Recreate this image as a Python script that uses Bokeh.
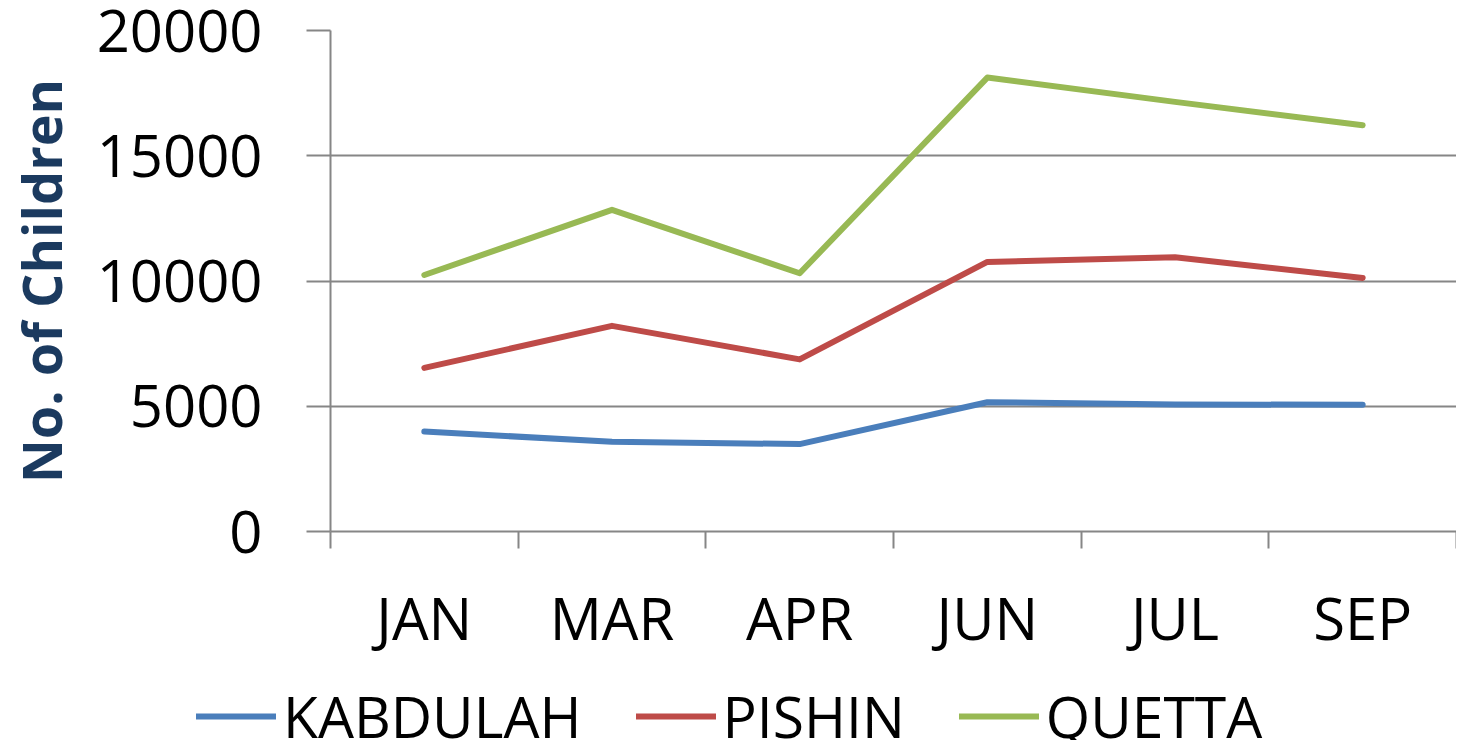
from bokeh.plotting import figure
from bokeh.models import FixedTicker, Legend, LegendItem, Range1d
from bokeh.layouts import column
from bokeh.embed import file_html
from bokeh.resources import INLINE

months = ["JAN", "MAR", "APR", "JUN", "JUL", "SEP"]
kabdulah = [3990, 3580, 3490, 5160, 5070, 5060]
pishin = [6530, 8210, 6870, 10760, 10950, 10120]
quetta = [10240, 12840, 10310, 18120, 17150, 16220]
y_ticks = [0, 5000, 10000, 15000, 20000]

series = [("KABDULAH", kabdulah, "#4A7EBB"),
          ("PISHIN", pishin, "#BE4B48"),
          ("QUETTA", quetta, "#98B954")]

xs = [i + 0.5 for i in range(len(months))]

FONT = "Open Sans"
GRID = "#868686"
W = 1456
H_MAIN = 662
H_LEG = 78

p = figure(width=W, height=H_MAIN, output_backend="svg", toolbar_location=None,
           x_range=Range1d(0, len(months)), y_range=Range1d(0, 20000),
           min_border_left=330, min_border_right=0, min_border_top=30,
           min_border_bottom=131)
p.frame_align = False
p.outline_line_color = None
p.background_fill_color = "white"
p.border_fill_color = "white"

for name, vals, col in series:
    p.line(xs, vals, line_color=col, line_width=6, line_cap="round",
           line_join="round")

# x axis
xa = p.xaxis[0]
xa.ticker = FixedTicker(ticks=xs, minor_ticks=list(range(len(months) + 1)))
xa.major_label_overrides = {x: m for x, m in zip(xs, months)}
xa.major_tick_out = 0
xa.major_tick_in = 0
xa.minor_tick_out = 17
xa.minor_tick_in = 0
xa.minor_tick_line_color = GRID
xa.minor_tick_line_width = 2
xa.axis_line_color = GRID
xa.axis_line_width = 2
xa.major_label_text_font = FONT
xa.major_label_text_font_size = "58px"
xa.major_label_text_color = "black"
xa.major_label_standoff = 29

# y axis
ya = p.yaxis[0]
ya.ticker = FixedTicker(ticks=y_ticks)
ya.minor_tick_line_color = None
ya.major_tick_out = 24
ya.major_tick_in = 0
ya.major_tick_line_color = GRID
ya.major_tick_line_width = 2
ya.axis_line_color = GRID
ya.axis_line_width = 2
ya.major_label_text_font = FONT
ya.major_label_text_font_size = "58px"
ya.major_label_text_color = "black"
ya.major_label_standoff = 44
ya.axis_label = "No. of Children"
ya.axis_label_text_font = FONT
ya.axis_label_text_font_style = "bold"
ya.axis_label_text_font_size = "54px"
ya.axis_label_text_color = "#1B3A5F"
ya.axis_label_standoff = 16

p.xgrid.grid_line_color = None
p.ygrid.grid_line_color = GRID
p.ygrid.grid_line_width = 2
p.ygrid.ticker = FixedTicker(ticks=y_ticks)

# legend strip below the chart (series lines fall outside its visible range)
p2 = figure(width=W, height=H_LEG, output_backend="svg", toolbar_location=None,
            x_range=Range1d(0, len(months)), y_range=Range1d(-2, -1),
            min_border=0)
p2.frame_align = False
p2.axis.visible = False
p2.grid.visible = False
p2.outline_line_color = None
items = []
for name, vals, col in series:
    r = p2.line(xs, vals, line_color=col, line_width=6, line_cap="round")
    items.append(LegendItem(label=name, renderers=[r]))

legend = Legend(items=items, orientation="horizontal", location=(196, -15),
                label_text_font=FONT, label_text_font_size="57px",
                label_text_color="black", glyph_width=80, glyph_height=40,
                label_standoff=7, spacing=54, padding=0, margin=0,
                border_line_color=None, background_fill_alpha=0)
p2.add_layout(legend, "center")

open("out.html", "w").write(file_html(column(p, p2, spacing=0), INLINE))
